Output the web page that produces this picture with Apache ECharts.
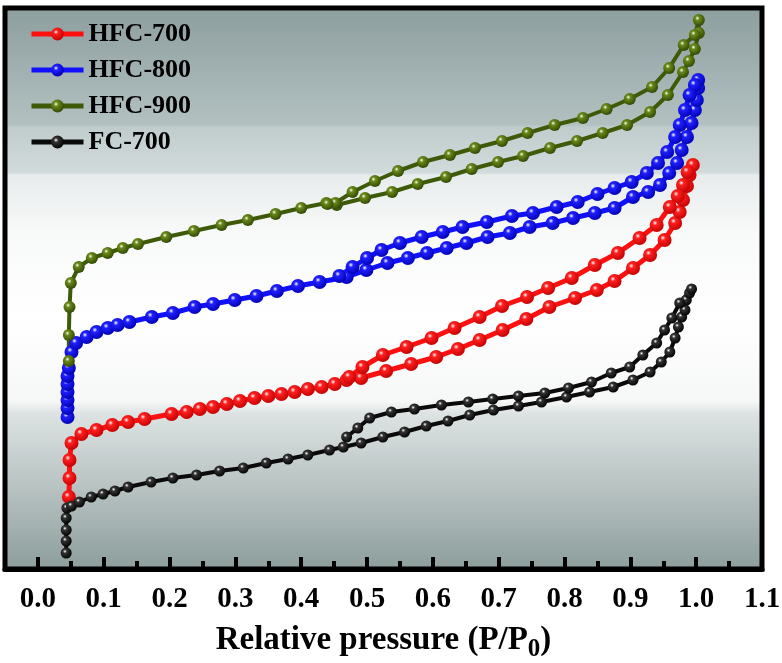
<!DOCTYPE html>
<html>
<head>
<meta charset="utf-8">
<script src="https://cdn.jsdelivr.net/npm/echarts@6/dist/echarts.min.js"></script>
<style>
  html, body { margin: 0; padding: 0; background: #fff; }
  #chart { width: 782px; height: 663px; }
</style>
</head>
<body>
<div id="chart"></div>
<script>
// N2 isotherms, [P/P0, quantity adsorbed (arbitrary units)]
const hfc700Ads = [[0.047,72],[0.048,91],[0.048,109],[0.051,126],[0.066,135],[0.089,139],[0.113,144],[0.137,147],[0.162,150],[0.203,155],[0.226,157],[0.246,160],[0.266,162],[0.287,165],[0.307,168],[0.329,171],[0.350,173],[0.370,175],[0.390,177],[0.410,180],[0.431,182],[0.451,185],[0.469,189],[0.491,191],[0.529,198],[0.567,205],[0.605,212],[0.638,220],[0.671,229],[0.706,239],[0.742,250],[0.777,262],[0.816,271],[0.849,279],[0.876,288],[0.904,301],[0.930,314],[0.952,329],[0.968,346],[0.975,357],[0.980,369],[0.986,383],[0.990,394],[0.995,404]]
const hfc700Des = [[0.987,397],[0.980,384],[0.972,373],[0.960,362],[0.940,344],[0.914,331],[0.881,316],[0.846,304],[0.811,291],[0.775,281],[0.743,272],[0.705,263],[0.671,252],[0.633,241],[0.598,231],[0.560,222],[0.524,214],[0.493,202],[0.473,192]]

const hfc800Ads = [[0.045,152],[0.045,161],[0.045,169],[0.045,177],[0.045,185],[0.045,193],[0.047,201],[0.051,217],[0.058,226],[0.074,232],[0.089,237],[0.106,241],[0.121,244],[0.139,247],[0.173,252],[0.205,256],[0.238,262],[0.266,265],[0.299,269],[0.332,273],[0.363,278],[0.395,283],[0.428,287],[0.469,292],[0.499,299],[0.531,306],[0.562,311],[0.591,316],[0.621,321],[0.651,326],[0.683,332],[0.717,336],[0.747,342],[0.782,346],[0.813,351],[0.846,356],[0.876,361],[0.904,372],[0.927,377],[0.945,384],[0.959,396],[0.971,406],[0.978,419],[0.986,432],[0.993,446],[0.998,459],[1.001,469],[1.003,481],[1.003,489]]
const hfc800Des = [[0.998,484],[0.990,474],[0.983,459],[0.975,444],[0.968,432],[0.956,417],[0.942,406],[0.925,396],[0.902,387],[0.876,381],[0.850,375],[0.820,367],[0.788,362],[0.752,356],[0.720,353],[0.682,347],[0.645,342],[0.615,337],[0.583,332],[0.550,326],[0.522,319],[0.500,311],[0.478,302],[0.458,293]]

const hfc900Ads = [[0.047,208],[0.047,234],[0.048,262],[0.050,286],[0.062,302],[0.082,311],[0.106,316],[0.129,321],[0.152,325],[0.195,332],[0.237,338],[0.279,344],[0.319,349],[0.361,355],[0.400,361],[0.438,366],[0.454,364],[0.497,371],[0.538,377],[0.577,385],[0.620,392],[0.659,400],[0.699,407],[0.737,413],[0.778,421],[0.819,428],[0.858,436],[0.895,444],[0.930,457],[0.957,474],[0.980,497],[0.989,508],[0.998,520],[1.004,536],[1.004,549]]
const hfc900Des = [[0.998,534],[0.981,524],[0.959,501],[0.933,482],[0.899,470],[0.864,460],[0.828,451],[0.785,444],[0.744,436],[0.705,428],[0.664,421],[0.626,414],[0.585,407],[0.547,398],[0.512,388],[0.478,377],[0.452,366],[0.440,365]]

const fc700Ads = [[0.043,16],[0.043,28],[0.043,39],[0.043,51],[0.044,61],[0.051,63],[0.063,67],[0.081,72],[0.099,75],[0.117,78],[0.137,82],[0.172,87],[0.205,91],[0.241,94],[0.276,98],[0.312,101],[0.347,106],[0.380,110],[0.410,114],[0.443,119],[0.464,122],[0.491,126],[0.524,132],[0.557,137],[0.590,143],[0.623,148],[0.656,154],[0.692,159],[0.730,163],[0.765,167],[0.803,172],[0.838,177],[0.874,182],[0.904,189],[0.930,197],[0.947,207],[0.960,217],[0.968,231],[0.973,242],[0.978,252],[0.983,259],[0.985,269],[0.990,276],[0.993,280]]
const fc700Des = [[0.975,266],[0.963,251],[0.952,239],[0.940,226],[0.919,214],[0.899,202],[0.871,196],[0.841,187],[0.806,181],[0.770,176],[0.730,173],[0.691,170],[0.654,167],[0.613,164],[0.572,160],[0.537,157],[0.504,151],[0.486,141],[0.469,132]]

const seriesNames = ['HFC-700', 'HFC-800', 'HFC-900', 'FC-700']
const xTickLabels = ['0.0','0.1','0.2','0.3','0.4','0.5','0.6','0.7','0.8','0.9','1.0','1.1']

const serif = '"Liberation Serif", "Times New Roman", serif'

function ball(base, dark) {
  return {
    type: 'radial', x: 0.38, y: 0.35, r: 0.7,
    colorStops: [
      { offset: 0, color: '#ffffff' },
      { offset: 0.25, color: base },
      { offset: 1, color: dark }
    ]
  }
}

function makeSeries(name, data, lineColor, base, dark, size, width) {
  return {
    name: name,
    type: 'line',
    data: data,
    symbol: 'circle',
    symbolSize: size,
    showSymbol: true,
    lineStyle: { color: lineColor, width: width },
    itemStyle: { color: ball(base, dark) },
    emphasis: { disabled: true }
  }
}

const chart = echarts.init(document.getElementById('chart'))
chart.setOption({
  animation: false,
  grid: {
    left: 5, right: 20, top: 8, bottom: 94,
    outerBoundsMode: 'none',
    show: true,
    borderColor: '#000',
    borderWidth: 5,
    backgroundColor: {
      type: 'linear', x: 0, y: 0, x2: 0, y2: 1,
      colorStops: [
        { offset: 0, color: '#8d9e9e' },
        { offset: 0.21, color: '#b2c0c0' },
        { offset: 0.215, color: '#c0cccc' },
        { offset: 0.295, color: '#d2dbdc' },
        { offset: 0.30, color: '#e8ecec' },
        { offset: 0.40, color: '#f8f9f9' },
        { offset: 0.55, color: '#ffffff' },
        { offset: 0.70, color: '#f6f7f7' },
        { offset: 0.72, color: '#dde3e3' },
        { offset: 1, color: '#8c9d9b' }
      ]
    }
  },
  legend: {
    data: seriesNames,
    orient: 'vertical',
    left: 24,
    top: 16,
    itemWidth: 52,
    itemHeight: 16,
    itemGap: 10,
    lineStyle: { width: 5 },
    textStyle: { fontFamily: serif, fontWeight: 'bold', fontSize: 26, color: '#000' }
  },
  xAxis: [
    {
      // tick axis: 0.05, 0.15 ... short ticks; 0.0, 0.1 ... long (minor) ticks
      type: 'value',
      min: -0.05, max: 1.1, interval: 0.1,
      axisLine: { show: true, lineStyle: { color: '#000', width: 5 } },
      axisTick: { show: true, inside: true, length: 8, lineStyle: { color: '#000', width: 4 } },
      minorTick: { show: true, splitNumber: 2, length: 12, lineStyle: { color: '#000', width: 4 } },
      axisLabel: { show: true, formatter: function () { return '' } },
      splitLine: { show: false }
    },
    {
      type: 'value',
      min: -0.05, max: 1.1, interval: 0.05,
      position: 'bottom',
      axisLine: { show: false },
      axisTick: { show: false },
      splitLine: { show: false },
      axisLabel: {
        margin: 16,
        fontFamily: serif, fontWeight: 'bold', fontSize: 29, color: '#000',
        formatter: function (v) {
          const k = Math.round(v * 100)
          if (k < 0 || k % 10 !== 0) return ''
          return xTickLabels[k / 10]
        }
      },
      name: 'Relative pressure (P/P{sub|0})',
      nameLocation: 'middle',
      nameGap: 50,
      nameTextStyle: {
        fontFamily: serif, fontWeight: 'bold', fontSize: 33, color: '#000',
        rich: {
          sub: { fontFamily: serif, fontWeight: 'bold', fontSize: 25, color: '#000', padding: [18, 0, 0, 0] }
        }
      }
    }
  ],
  yAxis: {
    type: 'value',
    min: 0, max: 561,
    axisLine: { show: false },
    axisTick: { show: false },
    axisLabel: { show: false },
    splitLine: { show: false }
  },
  series: [
    makeSeries('HFC-700', hfc700Ads.concat(hfc700Des), '#ff1010', '#ff2020', '#c00000', 14, 5),
    makeSeries('HFC-800', hfc800Ads.concat(hfc800Des), '#1010ff', '#2020ff', '#0000b0', 14, 5),
    makeSeries('HFC-900', hfc900Ads.concat(hfc900Des), '#3e5a08', '#6a8a18', '#2e4404', 12, 4),
    makeSeries('FC-700', fc700Ads.concat(fc700Des), '#0a0a0a', '#333333', '#000000', 11, 4)
  ]
})
</script>
</body>
</html>
